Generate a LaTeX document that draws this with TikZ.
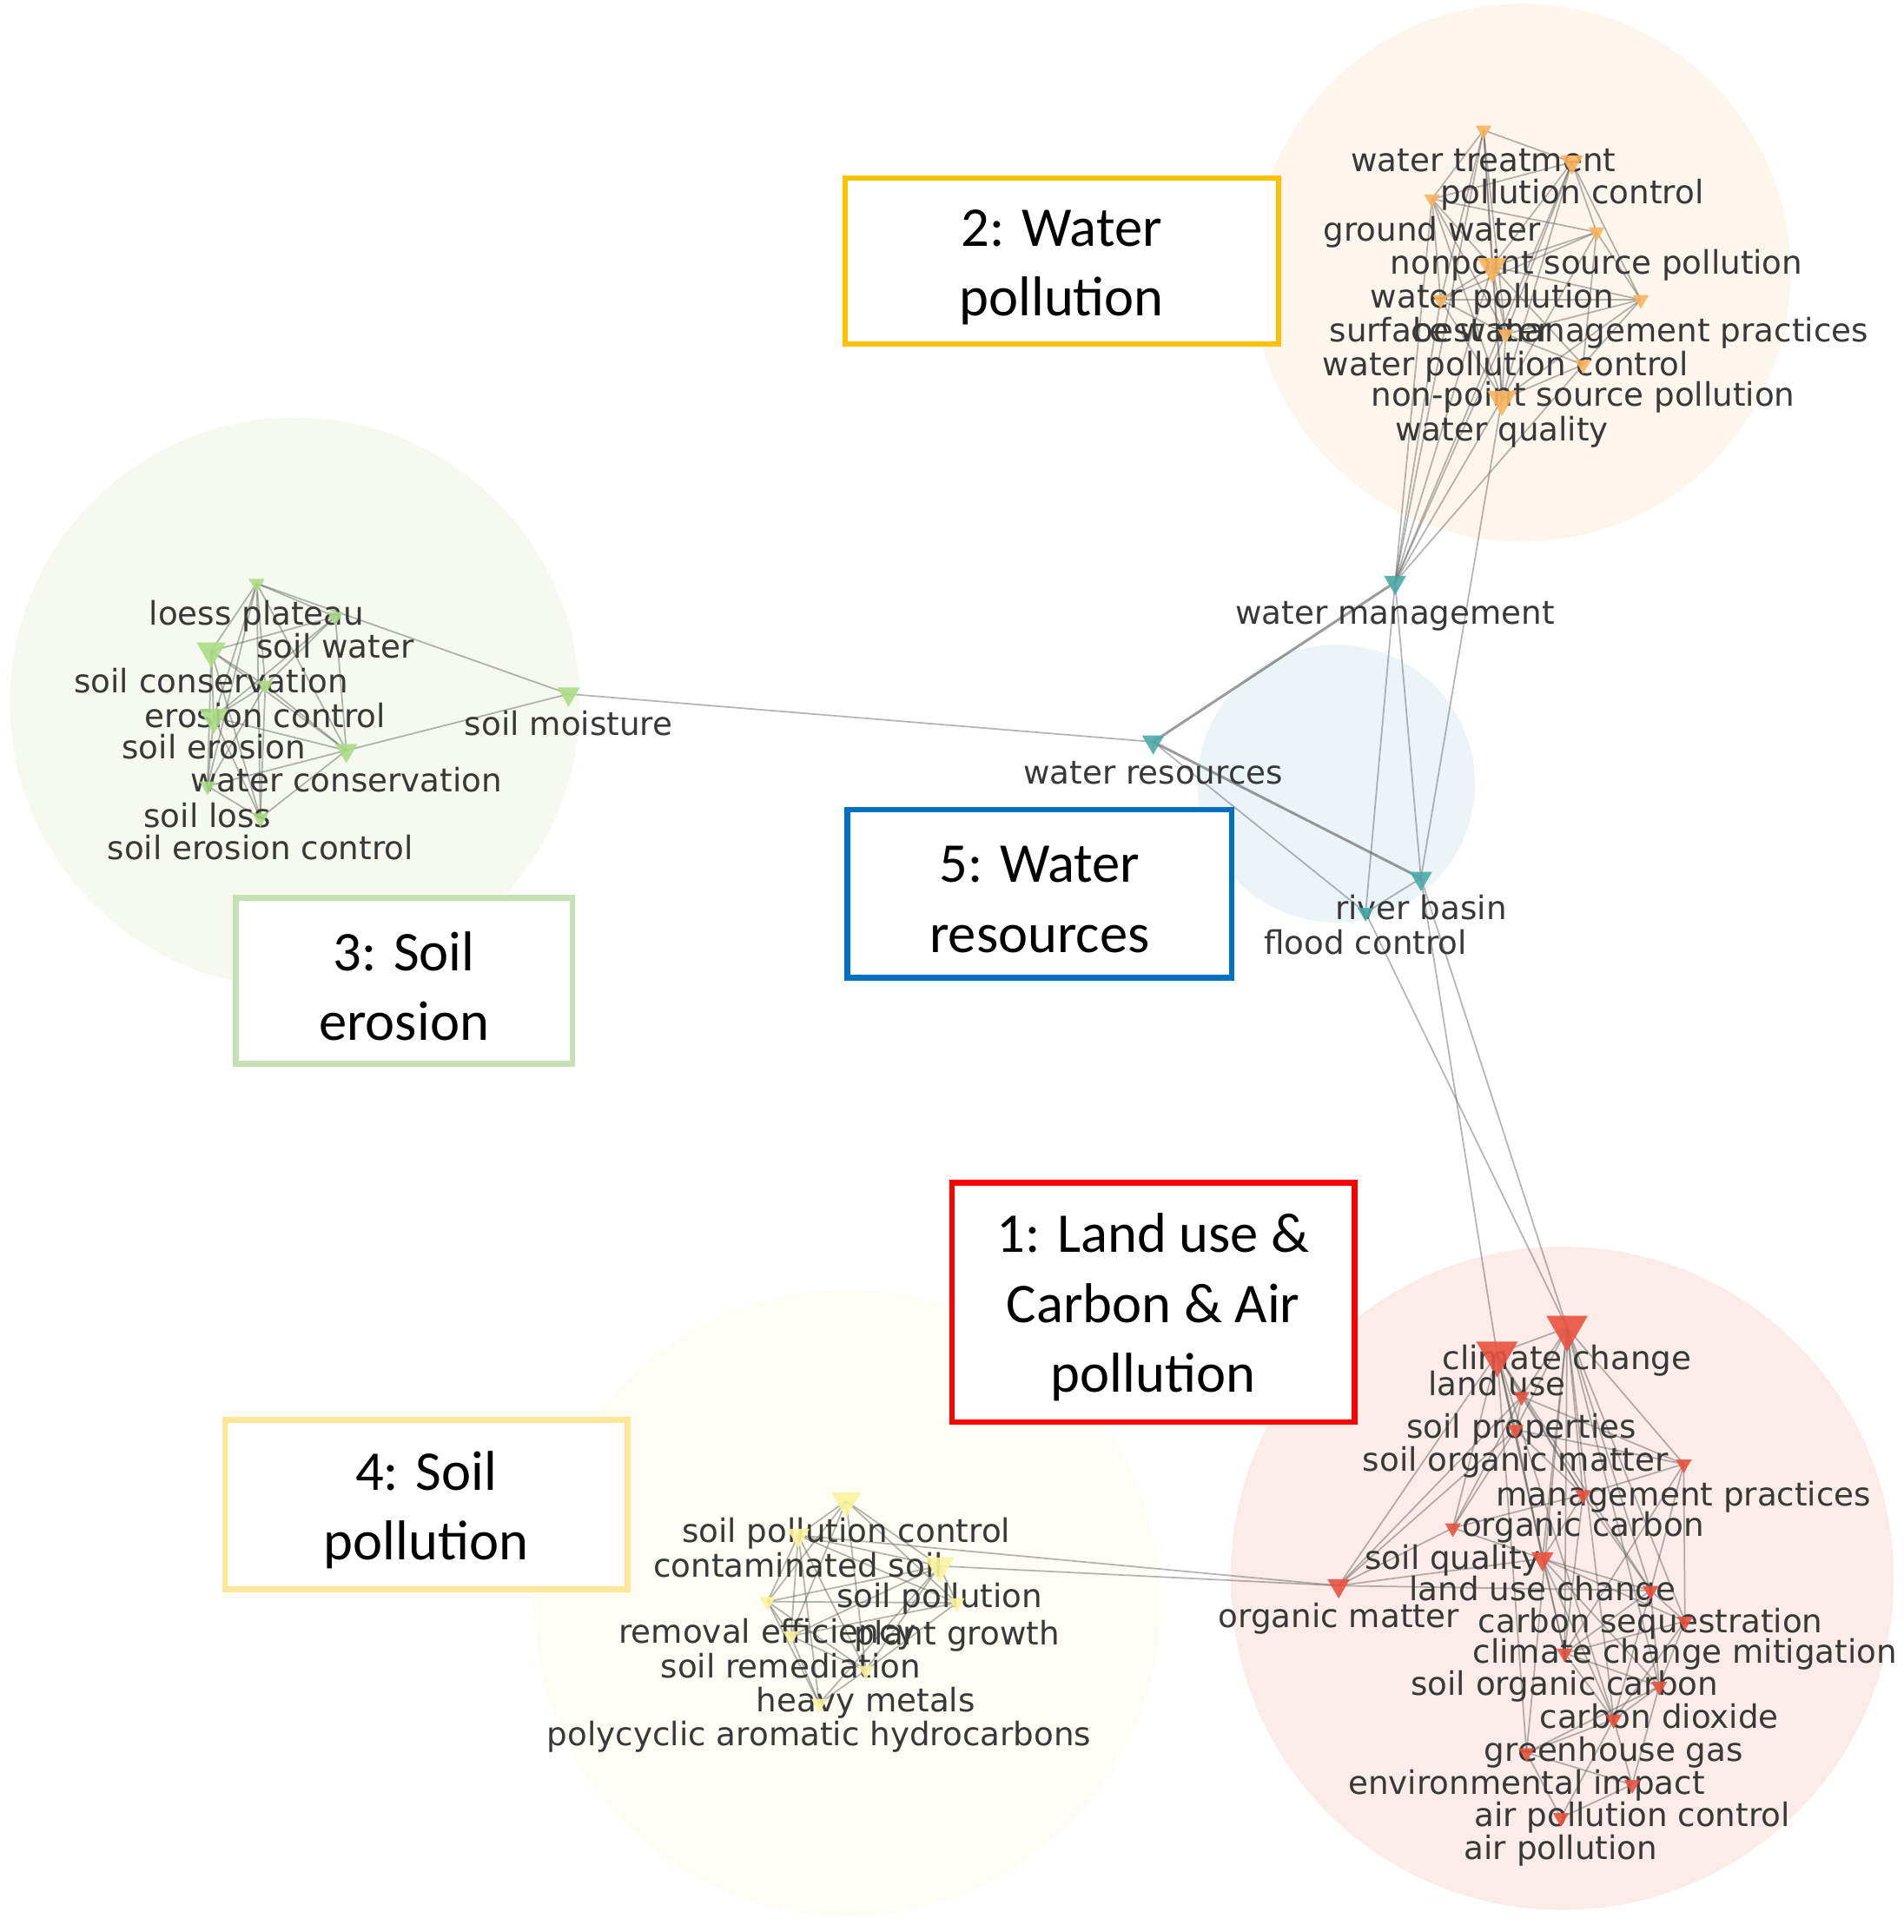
\documentclass[tikz,border=0pt]{standalone}
\usepackage{fontspec}
\setmainfont{DejaVu Sans}
\newfontfamily\boxfont{Carlito}
\usetikzlibrary{shapes.geometric}
\pgfdeclarelayer{circ}
\pgfdeclarelayer{edges}
\pgfsetlayers{circ,edges,main}
\definecolor{bgO}{HTML}{FDF6EC}
\definecolor{bgG}{HTML}{F5F9EF}
\definecolor{bgB}{HTML}{EBF4F7}
\definecolor{bgR}{HTML}{FBEBE9}
\definecolor{bgY}{HTML}{FEFDF4}
\definecolor{triO}{HTML}{F8B55F}
\definecolor{triT}{HTML}{4BAAA7}
\definecolor{triG}{HTML}{ADDC86}
\definecolor{triY}{HTML}{FBF5A0}
\definecolor{triR}{HTML}{E9533F}
\definecolor{boxO}{HTML}{FFC000}
\definecolor{boxB}{HTML}{0070C0}
\definecolor{boxG}{HTML}{C5E0B4}
\definecolor{boxR}{HTML}{FF0000}
\definecolor{boxY}{HTML}{FFE699}
\newcommand{\kw}[5]{\node[tri,#2] (#1) at (#3,#4) {};\node[lbl] (#1L) at (#3,#4+34) {#5};}
\begin{document}
\begin{tikzpicture}[x=0.02cm,y=-0.02cm,
  tri/.style={regular polygon,regular polygon sides=3,shape border rotate=180,inner sep=0pt,draw=none,fill opacity=.9},
  tS/.style={minimum size=0.30cm},
  tM/.style={minimum size=0.42cm},
  tL/.style={minimum size=0.55cm},
  tX/.style={minimum size=0.78cm},
  cO/.style={fill=triO},cT/.style={fill=triT},cG/.style={fill=triG},cY/.style={fill=triY},cR/.style={fill=triR},
  lbl/.style={anchor=base,inner sep=0pt,text=black!78,font=\fontsize{15}{18}\selectfont},
  edge/.style={draw=black!65,opacity=.45,line width=0.7pt},
  edgeT/.style={draw=black!65,opacity=.6,line width=1.2pt},
  box/.style={draw=#1,line width=2.6pt,fill=white,inner sep=0pt},
  boxtxt/.style={align=center,inner sep=0pt,font=\boxfont\fontsize{26}{32.4}\selectfont,text=black}]
\useasboundingbox (0,0) rectangle (1550,1573);
% background circles
\begin{pgfonlayer}{circ}
\fill[bgO] (1239,222) circle[radius=219];
\fill[bgG] (240,572) circle[radius=232];
\fill[bgB] (1088,638) circle[radius=113];
\fill[bgR] (1272,1285) circle[radius=270];
\fill[bgY] (690,1305) circle[radius=255];
\end{pgfonlayer}
% water pollution cluster
\kw{wt}{tS,cO}{1208}{106}{water treatment}
\kw{pc}{tM,cO}{1280}{132}{pollution control}
\kw{gw}{tS,cO}{1166}{162}{ground water}
\kw{nsp}{tS,cO}{1300}{189}{nonpoint source pollution}
\kw{wp}{tL,cO}{1215}{217}{water pollution}
\kw{sw}{tS,cO}{1173}{244}{surface water}
\kw{bmp}{tS,cO}{1336}{244}{best management practices}
\kw{wpc}{tS,cO}{1226}{272}{water pollution control}
\kw{npsp}{tS,cO}{1289}{297}{non-point source pollution}
\kw{wq}{tL,cO}{1223}{325}{water quality}
% water resources
\kw{wm}{tM,cT}{1136}{474}{water management}
\kw{wr}{tM,cT}{939}{604}{water resources}
\kw{rb}{tM,cT}{1157}{715}{river basin}
\kw{fc}{tS,cT}{1112}{743}{flood control}
% soil erosion
\kw{lp}{tS,cG}{209}{475}{loess plateau}
\kw{swt}{tS,cG}{273}{502}{soil water}
\kw{sc}{tL,cG}{172}{530}{soil conservation}
\kw{ec}{tS,cG}{216}{558}{erosion control}
\kw{se}{tL,cG}{174}{584}{soil erosion}
\kw{wc}{tM,cG}{282}{611}{water conservation}
\kw{sl}{tS,cG}{169}{640}{soil loss}
\kw{sec}{tS,cG}{212}{666}{soil erosion control}
\kw{sm}{tM,cG}{463}{565}{soil moisture}
% soil pollution
\kw{spc}{tL,cY}{689}{1222}{soil pollution control}
\kw{cs}{tM,cY}{650}{1250}{contaminated soil}
\kw{sp}{tL,cY}{765}{1275}{soil pollution}
\kw{re}{tS,cY}{625}{1304}{removal efficiency}
\kw{pg}{tS,cY}{779}{1305}{plant growth}
\kw{sr}{tS,cY}{644}{1332}{soil remediation}
\kw{hm}{tS,cY}{705}{1360}{heavy metals}
\kw{pah}{tS,cY}{667}{1387}{polycyclic aromatic hydrocarbons}
% land use / carbon / air
\kw{cc}{tX,cR}{1276}{1081}{climate change}
\kw{lu}{tX,cR}{1219}{1102}{land use}
\kw{spr}{tS,cR}{1239}{1137}{soil properties}
\kw{som}{tS,cR}{1234}{1164}{soil organic matter}
\kw{mp}{tS,cR}{1371}{1192}{management practices}
\kw{oc}{tS,cR}{1289}{1217}{organic carbon}
\kw{sq}{tS,cR}{1183}{1244}{soil quality}
\kw{luc}{tM,cR}{1256}{1269}{land use change}
\kw{om}{tM,cR}{1090}{1291}{organic matter}
\kw{csq}{tS,cR}{1344}{1295}{carbon sequestration}
\kw{ccm}{tS,cR}{1372}{1320}{climate change mitigation}
\kw{soc}{tS,cR}{1274}{1346}{soil organic carbon}
\kw{cd}{tS,cR}{1351}{1373}{carbon dioxide}
\kw{gg}{tS,cR}{1314}{1400}{greenhouse gas}
\kw{ei}{tS,cR}{1243}{1427}{environmental impact}
\kw{apc}{tS,cR}{1329}{1453}{air pollution control}
\kw{ap}{tS,cR}{1271}{1480}{air pollution}
% edges
\begin{pgfonlayer}{edges}
\foreach \a/\b in {wt/pc,wt/gw,wt/wp,wt/wq,wt/wpc,wt/sw,pc/gw,pc/nsp,pc/wp,pc/wq,pc/wpc,pc/bmp,
  gw/wp,gw/sw,gw/wq,gw/nsp,gw/wpc,nsp/wp,nsp/bmp,nsp/wq,nsp/npsp,nsp/sw,wp/sw,wp/bmp,wp/wpc,wp/npsp,wp/wq,
  sw/wq,sw/wpc,sw/bmp,bmp/wq,bmp/npsp,bmp/wpc,wpc/wq,wpc/npsp,npsp/wq,
  wm/wq,wm/wp,wm/sw,wm/gw,wm/wpc,wm/npsp,wm/pc,wm/wt,
  wm/rb,wm/fc,rb/fc,wr/fc,wq/rb,sm/wr,fc/cc,rb/cc,rb/lu,cs/om,sp/om,
  lp/swt,lp/sc,lp/ec,lp/se,lp/wc,lp/sl,lp/sec,swt/sc,swt/ec,swt/se,swt/wc,sc/ec,sc/se,sc/wc,sc/sl,sc/sec,
  ec/se,ec/wc,ec/sl,ec/sec,se/wc,se/sl,se/sec,wc/sl,wc/sec,sl/sec,lp/sm,wc/sm,
  spc/cs,spc/sp,spc/re,spc/pg,spc/sr,spc/hm,cs/sp,cs/re,cs/pg,cs/sr,cs/hm,cs/pah,sp/re,sp/pg,sp/sr,sp/hm,sp/pah,
  re/pg,re/sr,re/hm,re/pah,pg/sr,pg/hm,sr/hm,sr/pah,hm/pah,
  cc/lu,cc/spr,cc/som,cc/mp,cc/oc,cc/luc,cc/csq,cc/ccm,cc/soc,cc/cd,cc/gg,cc/ei,lu/spr,lu/som,lu/sq,lu/luc,lu/om,
  lu/oc,lu/csq,lu/soc,lu/ei,lu/gg,spr/som,spr/sq,spr/oc,spr/om,spr/mp,som/sq,som/oc,som/mp,som/om,som/luc,
  mp/oc,mp/csq,mp/ccm,mp/soc,oc/sq,oc/csq,oc/luc,oc/soc,sq/om,sq/luc,luc/csq,luc/ccm,luc/soc,luc/cd,luc/gg,
  csq/ccm,csq/soc,csq/cd,csq/gg,ccm/cd,ccm/gg,ccm/soc,soc/cd,soc/gg,cd/gg,cd/ei,cd/apc,gg/ei,gg/apc,gg/ap,
  ei/apc,ei/ap,apc/ap,om/luc,om/csq}
  \draw[edge] (\a.center) -- (\b.center);
\foreach \a/\b in {wr/wm,wr/rb}
  \draw[edgeT] (\a.center) -- (\b.center);
\end{pgfonlayer}
% cluster boxes
\node[box=boxO,minimum width=7.06cm,minimum height=2.70cm] (b2) at (864.5,212.5) {};
\node[boxtxt] (b2t) at (864.5,217.5) {2: Water\\pollution};
\node[box=boxB,minimum width=6.26cm,minimum height=2.74cm] (b5) at (846.5,727.5) {};
\node[boxtxt] (b5t) at (846.5,732.5) {5: Water\\resources};
\node[box=boxG,minimum width=5.48cm,minimum height=2.70cm] (b3) at (329,798.5) {};
\node[boxtxt] (b3t) at (329,803) {3: Soil\\erosion};
\node[box=boxR,minimum width=6.56cm,minimum height=3.90cm] (b1) at (939,1060.5) {};
\node[boxtxt] (b1t) at (939,1064.5) {1: Land use \&\\Carbon \& Air\\pollution};
\node[box=boxY,minimum width=6.56cm,minimum height=2.76cm] (b4) at (347,1225) {};
\node[boxtxt] (b4t) at (347,1229.5) {4: Soil\\pollution};
\end{tikzpicture}
\end{document}
